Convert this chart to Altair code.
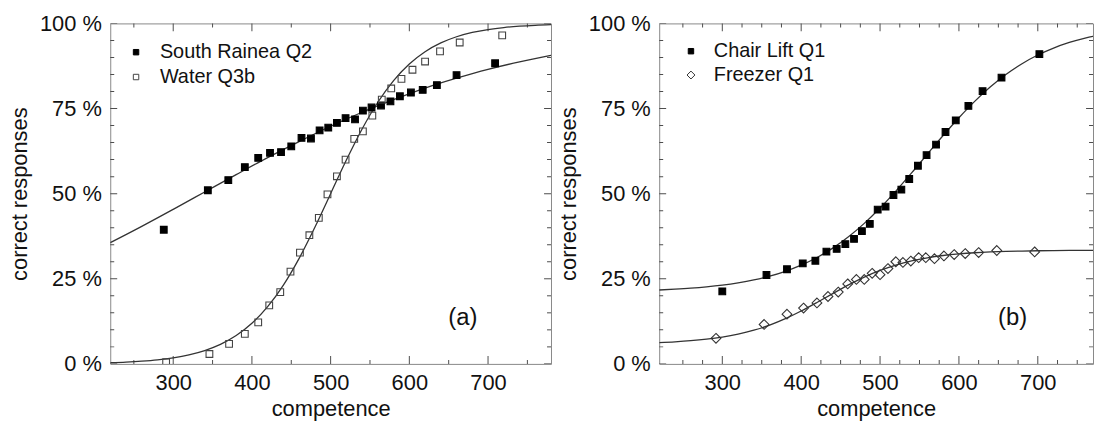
import altair as alt
import pandas as pd

FONT = "Liberation Sans"

# ---------------- panel (a) data ----------------
sr_name = "South Rainea Q2"
sr_x = [288, 344, 370, 391, 408, 423, 437, 450, 463, 475, 486, 497, 508, 519, 531, 541, 552, 564, 576, 588, 602, 617, 635, 660, 709]
sr_y = [39.4, 51.0, 54.0, 57.8, 60.5, 62.0, 62.2, 63.9, 66.4, 66.2, 68.6, 69.4, 70.8, 72.2, 71.8, 74.4, 75.3, 75.9, 77.1, 78.6, 79.7, 80.5, 81.9, 84.8, 88.3]

wa_name = "Water Q3b"
wa_x = [291, 346, 371, 391, 408, 422, 436, 449, 461, 473, 485, 496, 508, 519, 530, 541, 553, 565, 577, 590, 604, 620, 639, 664, 718]
wa_y = [0.5, 2.9, 5.9, 8.8, 12.2, 17.2, 21.1, 27.1, 32.7, 37.8, 42.9, 49.8, 55.1, 60.0, 66.1, 68.3, 72.9, 77.6, 80.9, 83.7, 86.4, 88.8, 91.8, 94.4, 96.5]

# fitted curves
sr_curve_x = [220, 260, 300, 340, 380, 420, 460, 500, 540, 580, 620, 660, 700, 740, 780]
sr_curve_y = [35.6, 40.4, 45.4, 50.5, 55.6, 60.6, 65.3, 69.8, 73.9, 77.6, 81.0, 83.9, 86.5, 88.7, 90.6]

curve_x20 = [220, 240, 260, 280, 300, 320, 340, 360, 380, 400, 420, 440, 460, 480, 500,
             520, 540, 560, 580, 600, 620, 640, 660, 680, 700, 720, 740, 760, 780]
wa_curve_y = [0.37, 0.55, 0.82, 1.21, 1.80, 2.66, 3.92, 5.73, 8.32, 11.92, 16.80, 23.15, 31.00, 40.13, 50.0,
              59.87, 69.00, 76.85, 83.20, 88.08, 91.68, 94.27, 96.08, 97.34, 98.20, 98.79, 99.18, 99.45, 99.63]

# ---------------- panel (b) data ----------------
ch_name = "Chair Lift Q1"
ch_x = [300, 356, 382, 402, 418, 432, 445, 456, 467, 477, 487, 497, 507, 517, 527, 537, 548, 559, 571, 583, 596, 612, 630, 654, 702]
ch_y = [21.3, 26.1, 27.8, 29.5, 30.3, 33.0, 33.8, 35.2, 36.7, 39.0, 41.1, 45.3, 46.2, 49.6, 51.2, 54.3, 58.2, 61.3, 64.4, 68.1, 71.5, 75.8, 80.1, 84.1, 91.0]

fr_name = "Freezer Q1"
fr_x = [292, 353, 382, 403, 420, 434, 447, 459, 470, 480, 490, 500, 510, 520, 529, 539, 549, 558, 569, 581, 594, 608, 625, 648, 696]
fr_y = [7.5, 11.6, 14.6, 16.4, 17.9, 19.8, 21.1, 23.5, 24.8, 24.8, 26.6, 26.2, 28.0, 30.0, 29.8, 30.2, 31.2, 31.2, 30.9, 31.7, 32.1, 32.4, 32.7, 33.3, 32.9]

ch_curve_y = [21.71, 21.94, 22.23, 22.62, 23.13, 23.80, 24.66, 25.77, 27.20, 28.99, 31.24, 34.01, 37.34, 41.27, 45.77,
              50.75, 56.09, 61.61, 67.07, 72.29, 77.10, 81.37, 85.06, 88.17, 90.72, 92.77, 94.41, 95.70, 96.71]
fr_curve_y = [6.28, 6.50, 6.81, 7.26, 7.88, 8.74, 9.89, 11.40, 13.29, 15.53, 18.03, 20.65, 23.19, 25.49, 27.45,
              29.03, 30.26, 31.17, 31.84, 32.31, 32.65, 32.88, 33.04, 33.15, 33.23, 33.28, 33.32, 33.35, 33.36]

# ---------------- axis ticks ----------------
x_major = [300, 400, 500, 600, 700]
a_x_minor = [250, 350, 450, 550, 650, 750]
b_x_minor = [250, 275, 325, 350, 375, 425, 450, 475, 525, 550, 575, 625, 650, 675, 725, 750]
y_major = [0, 25, 50, 75, 100]
y_minor = [5, 10, 15, 20, 30, 35, 40, 45, 55, 60, 65, 70, 80, 85, 90, 95]

H = 343
TICK = "#4d4d4d"
SQUARE = "square"
DIAMOND = "M0,-1.45L1.45,0L0,1.45L-1.45,0Z"


def panel(names, xs, ys, cx, cys, shapes, fills, strokes, label,
          xdom, x_minor, width, lx, ly, loff, rowpad):
    pts = pd.concat([pd.DataFrame({"competence": x, "pct": y, "series": n})
                     for n, x, y in zip(names, xs, ys)])
    crv = pd.concat([pd.DataFrame({"competence": x, "pct": y, "series": n})
                     for n, x, y in zip(names, cx, cys)])

    xs_ = alt.Scale(domain=xdom, nice=False, zero=False)
    ys_ = alt.Scale(domain=[0, 100], nice=False, zero=False)
    xaxis = alt.Axis(values=x_major, ticks=False, domain=False, grid=False,
                     labelFlush=False, labelFont=FONT, labelFontSize=22, labelColor="#111111",
                     labelPadding=9, title="competence", titleFont=FONT, titleFontSize=22,
                     titleFontWeight="normal", titleColor="#111111", titleY=52,
                     titleBaseline="alphabetic")
    yaxis = alt.Axis(values=y_major, labelExpr="datum.value + ' %'", ticks=False, domain=False,
                     grid=False, labelFlush=False, labelFont=FONT, labelFontSize=22,
                     labelColor="#111111", labelPadding=9, title="correct responses",
                     titleFont=FONT, titleFontSize=22, titleFontWeight="normal",
                     titleColor="#111111", titleX=-91, titleY=H / 2, titleAngle=270,
                     titleBaseline="middle", titleAlign="center")

    def X(f="competence"):
        return alt.X(f, type="quantitative", scale=xs_, axis=xaxis)

    def Y(f="pct"):
        return alt.Y(f, type="quantitative", scale=ys_, axis=yaxis)

    def XD(v):
        return alt.XDatum(v, type="quantitative", scale=xs_, axis=xaxis)

    def YD(v):
        return alt.YDatum(v, type="quantitative", scale=ys_, axis=yaxis)

    leg = alt.Legend(title=None, orient="none", legendX=lx, legendY=ly,
                     labelFont=FONT, labelFontSize=20, labelColor="#111111",
                     symbolSize=30, symbolStrokeWidth=1, rowPadding=rowpad, labelOffset=loff)

    lines = alt.Chart(crv).mark_line(color="#333333", strokeWidth=1.3,
                                     interpolate="monotone", clip=True).encode(
        x=X(), y=Y(), detail="series:N")

    points = alt.Chart(pts).mark_point(opacity=1, strokeWidth=1.1, size=46, clip=True).encode(
        x=X(), y=Y(),
        shape=alt.Shape("series:N", scale=alt.Scale(domain=names, range=shapes), legend=leg),
        fill=alt.Fill("series:N", scale=alt.Scale(domain=names, range=fills), legend=leg),
        stroke=alt.Stroke("series:N", scale=alt.Scale(domain=names, range=strokes), legend=leg),
    )

    def xticks(vals, size, yv):
        return alt.Chart(pd.DataFrame({"t": vals})).mark_tick(
            orient="vertical", size=size, thickness=1, color=TICK, clip=True, opacity=1
        ).encode(x=X("t"), y=YD(yv))

    def yticks(vals, size, xv):
        return alt.Chart(pd.DataFrame({"t": vals})).mark_tick(
            orient="horizontal", size=size, thickness=1, color=TICK, clip=True, opacity=1
        ).encode(y=Y("t"), x=XD(xv))

    ticks = [
        xticks(x_major, 16, 0), xticks(x_minor, 8, 0),
        xticks(x_major, 16, 100), xticks(x_minor, 8, 100),
        yticks(y_major, 14, xdom[0]), yticks(y_minor, 8, xdom[0]),
        yticks(y_major, 14, xdom[1]), yticks(y_minor, 8, xdom[1]),
    ]

    txt = alt.Chart(pd.DataFrame({"t": [label]})).mark_text(
        font=FONT, fontSize=24, color="#111111", align="center", baseline="middle"
    ).encode(x=XD(668), y=YD(13.5), text="t:N")

    return alt.layer(*ticks, lines, points, txt).properties(width=width, height=H)


left = panel([sr_name, wa_name], [sr_x, wa_x], [sr_y, wa_y],
             [sr_curve_x, curve_x20], [sr_curve_y, wa_curve_y],
             [SQUARE, SQUARE], ["#000000", "transparent"], ["#000000", "#444444"],
             "(a)", [220, 780], a_x_minor, 444, 16, 19, 14, 5)

right = panel([ch_name, fr_name], [ch_x, fr_x], [ch_y, fr_y],
              [curve_x20, curve_x20], [ch_curve_y, fr_curve_y],
              [SQUARE, DIAMOND], ["#000000", "transparent"], ["#000000", "#333333"],
              "(b)", [220, 770], b_x_minor, 437, 22, 18, 13, 4)

chart = alt.hconcat(left, right, spacing=5).resolve_scale(
    shape="independent", fill="independent", stroke="independent",
    x="independent", y="independent"
).resolve_legend(shape="independent", fill="independent", stroke="independent").configure(
    padding={"left": 0, "top": 2, "right": 0, "bottom": 0},
    font=FONT,
).configure_view(stroke="#888888", strokeWidth=1)

chart.save("out.html", embed_options={"renderer": "svg", "actions": False})
